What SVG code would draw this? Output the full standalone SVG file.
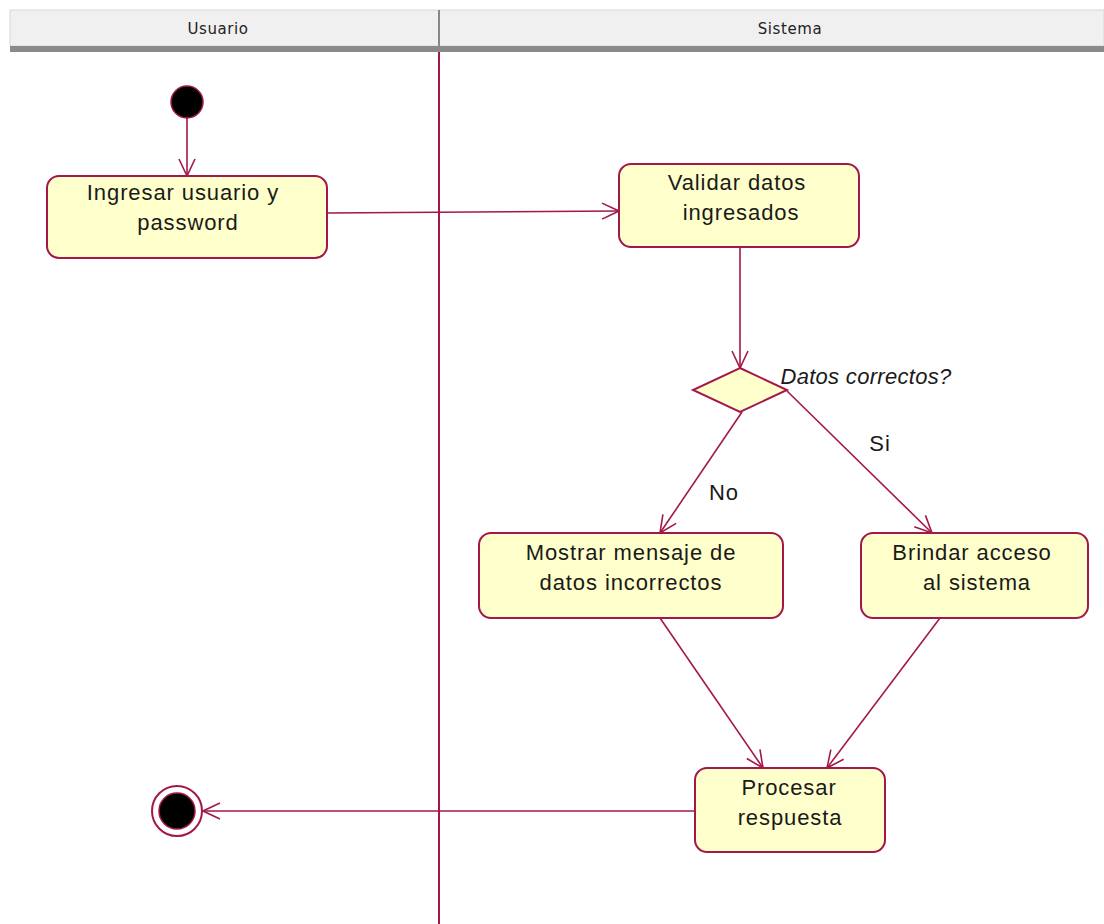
<svg xmlns="http://www.w3.org/2000/svg" width="1104" height="924" viewBox="0 0 1104 924">
<style>
.node{fill:#FFFFCC;stroke:#A3174B;stroke-width:2}
.t{font-family:"Liberation Sans",Arial,sans-serif;font-size:22px;letter-spacing:0.9px;fill:#1a1a1a;text-anchor:middle}
.hd{font-family:"DejaVu Sans",Verdana,sans-serif;font-size:15px;letter-spacing:0.6px;fill:#222;text-anchor:middle}
.c{stroke:#A3174B;stroke-width:1.6;fill:none}
</style>
<defs>
<marker id="ah" viewBox="0 0 20 20" refX="19" refY="10" markerWidth="20" markerHeight="20" markerUnits="userSpaceOnUse" orient="auto">
<path d="M2,2 L19,10 L2,18" fill="none" stroke="#A3174B" stroke-width="1.6"/>
</marker>
</defs>
<rect width="1104" height="924" fill="#fff"/>
<g id="header">
<rect x="10" y="10" width="1094" height="36" fill="#F0F0F0" stroke="#D8D8D8"/>
<rect x="10" y="46" width="1094" height="6" fill="#8A8A8A"/>
<line x1="439" y1="10" x2="439" y2="46" stroke="#888" stroke-width="2"/>
<text class="hd" x="218" y="34">Usuario</text>
<text class="hd" x="790" y="34">Sistema</text>
</g>
<g id="lane">
<line x1="439" y1="52" x2="439" y2="924" stroke="#A3174B" stroke-width="2"/>
</g>
<g id="connectors">
<line class="c" x1="187" y1="118" x2="187" y2="176" marker-end="url(#ah)"/>
<line class="c" x1="327" y1="213" x2="619" y2="211" marker-end="url(#ah)"/>
<line class="c" x1="740" y1="247" x2="740" y2="368" marker-end="url(#ah)"/>
<line class="c" x1="742" y1="412" x2="660" y2="533" marker-end="url(#ah)"/>
<line class="c" x1="787" y1="391" x2="932" y2="533" marker-end="url(#ah)"/>
<line class="c" x1="660" y1="618" x2="763" y2="768" marker-end="url(#ah)"/>
<line class="c" x1="940" y1="618" x2="827" y2="768" marker-end="url(#ah)"/>
<line class="c" x1="695" y1="811" x2="203" y2="811" marker-end="url(#ah)"/>
<text class="t" x="724" y="500">No</text>
<text class="t" x="880" y="451">Si</text>
</g>
<g id="start">
<circle cx="187" cy="102" r="16" fill="#000" stroke="#A3174B" stroke-width="1.5"/>
</g>
<g id="ingresar">
<rect class="node" x="47" y="176" width="280" height="82" rx="12"/>
<text class="t" x="183" y="200">Ingresar usuario y</text>
<text class="t" x="188" y="230">password</text>
</g>
<g id="validar">
<rect class="node" x="619" y="164" width="240" height="83" rx="12"/>
<text class="t" x="737" y="190">Validar datos</text>
<text class="t" x="741" y="220">ingresados</text>
</g>
<g id="decision">
<polygon class="node" points="740,368 787,390 740,412 693,390"/>
<text class="t" x="866" y="384" style="font-style:italic;letter-spacing:0.3px">Datos correctos?</text>
</g>
<g id="mostrar">
<rect class="node" x="479" y="533" width="304" height="85" rx="12"/>
<text class="t" x="631" y="560">Mostrar mensaje de</text>
<text class="t" x="631" y="590">datos incorrectos</text>
</g>
<g id="brindar">
<rect class="node" x="861" y="533" width="227" height="85" rx="12"/>
<text class="t" x="972" y="560">Brindar acceso</text>
<text class="t" x="977" y="590">al sistema</text>
</g>
<g id="procesar">
<rect class="node" x="695" y="768" width="190" height="84" rx="12"/>
<text class="t" x="789" y="795">Procesar</text>
<text class="t" x="790" y="825">respuesta</text>
</g>
<g id="end">
<circle cx="177" cy="811" r="25" fill="#fff" stroke="#A3174B" stroke-width="2"/>
<circle cx="177" cy="811" r="18" fill="#000" stroke="#A3174B" stroke-width="1.5"/>
</g>
</svg>
